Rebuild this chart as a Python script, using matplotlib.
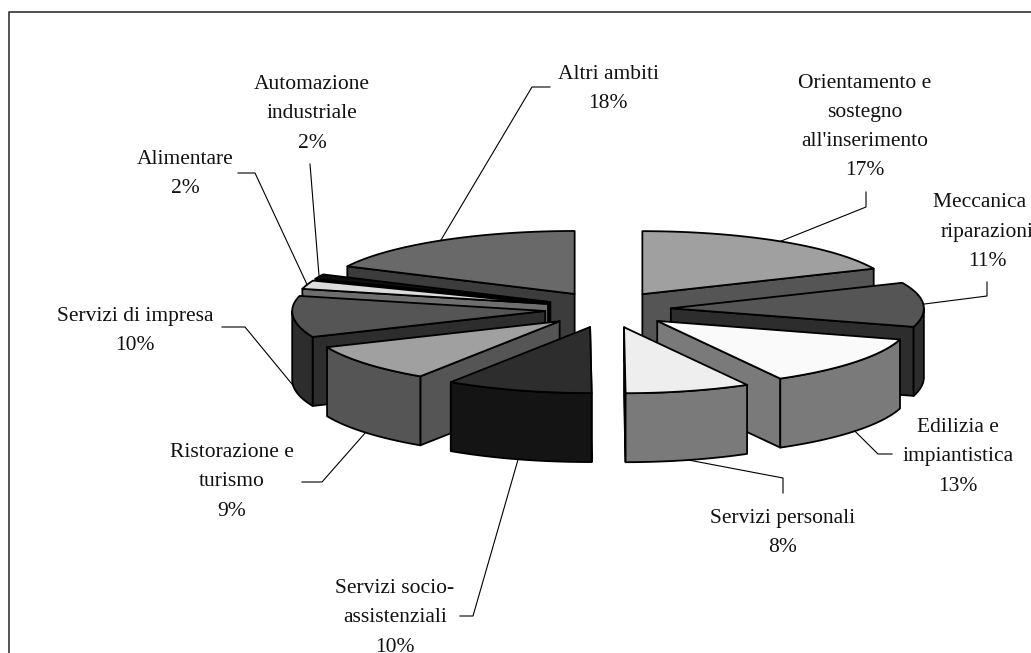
import numpy as np
import matplotlib
matplotlib.use("Agg")
import matplotlib.pyplot as plt
from matplotlib.patches import Polygon

# slices, clockwise from 12 o'clock
labels = ["Orientamento e\nsostegno\nall'inserimento", "Meccanica e\nriparazioni", "Edilizia e\nimpiantistica",
          "Servizi personali", "Servizi socio-\nassistenziali", "Ristorazione e\nturismo", "Servizi di impresa",
          "Alimentare", "Automazione\nindustriale", "Altri ambiti"]
percent = [17, 11, 13, 8, 10, 9, 10, 2, 2, 18]
# angular share as drawn (differs a bit from the rounded label)
shares = [18.4, 11.2, 12.4, 8.0, 9.4, 9.3, 10.3, 2.2, 1.2, 17.8]

top_grey = [160, 85, 250, 238, 45, 160, 85, 220, 15, 105]
wall_grey = [85, 45, 122, 122, 20, 85, 45, 110, 0, 60]
radial_grey = [85, 45, 122, 122, 20, 85, 45, 110, 0, 60]

# label centre and leader elbows in pixels
label_pos = [(865, 127), (987, 232), (958, 457), (783, 533), (395, 618), (232, 482), (135, 331), (185, 174), (312, 114), (608, 89)]
leaders = [[(866, 192), (866, 207)], [(987, 282), (987, 296)], [(892, 454), (878, 454)], [(783, 493), (783, 478)],
           [(460, 616), (473, 616)], [(302, 482), (322, 482)], [(222, 327), (245, 327)], [(238, 173), (255, 173)],
           [(310, 164)], [(550, 87), (532, 87)]]

cx, cy = 608, 309.5
a, b_back, b_front = 253, 63, 66
ex, ey = 63, 18.3
h = 69

edges = np.concatenate([[0], np.cumsum(shares)]) / np.sum(shares) * 360


def pt(theta, x0, y0, drop=0):
    t = np.radians(theta)
    b = b_back if np.cos(t) > 0 else b_front
    return x0 + a * np.sin(t), y0 - b * np.cos(t) + drop


def grey(v):
    return (v / 255, v / 255, v / 255)


fig = plt.figure(figsize=(10.31, 6.53), dpi=100)
ax = fig.add_axes([0, 0, 1, 1])
ax.set_xlim(0, 1031)
ax.set_ylim(653, 0)
ax.axis("off")

# chart frame, runs off the right and bottom of the image
ax.plot([9, 9, 1040], [670, 12, 12], color="#333333", lw=1.2, zorder=1)

mids = (edges[:-1] + edges[1:]) / 2
order = np.argsort(-np.cos(np.radians(mids)))
line_kw = dict(edgecolor="black", linewidth=1.3, joinstyle="round")

for n, i in enumerate(order):
    t1, t2, m = edges[i], edges[i + 1], mids[i]
    x0 = cx + ex * np.sin(np.radians(m))
    y0 = cy - ey * np.cos(np.radians(m))
    z = 2 + n

    # radial wall facing the viewer
    t_wall = t2 if m < 180 else t1
    p = pt(t_wall, x0, y0)
    ax.add_patch(Polygon([(x0, y0), p, (p[0], p[1] + h), (x0, y0 + h)], facecolor=grey(radial_grey[i]), zorder=z, **line_kw))

    # outer wall, front half only
    lo, hi = max(t1, 90), min(t2, 270)
    if hi > lo:
        th = np.linspace(lo, hi, 40)
        upper = [pt(v, x0, y0) for v in th]
        lower = [pt(v, x0, y0, h) for v in th[::-1]]
        ax.add_patch(Polygon(upper + lower, facecolor=grey(wall_grey[i]), zorder=z, **line_kw))

    # top face
    th = np.linspace(t1, t2, 60)
    ax.add_patch(Polygon([(x0, y0)] + [pt(v, x0, y0) for v in th], facecolor=grey(top_grey[i]), zorder=z, **line_kw))

    # leader from the slice edge at its mid angle
    drop = h if np.cos(np.radians(m)) < 0 else 0
    end = pt(m, x0, y0, drop)
    pts = leaders[i] + [end]
    ax.plot([q[0] for q in pts], [q[1] for q in pts], color="black", lw=0.8, zorder=20)

for i in range(len(labels)):
    ax.text(label_pos[i][0], label_pos[i][1], f"{labels[i]}\n{percent[i]}%", ha="center", va="center", ma="center",
            family="Liberation Serif", fontsize=15.5, linespacing=1.72, color="#111111", zorder=30)

fig.savefig("out.png", dpi=100)
